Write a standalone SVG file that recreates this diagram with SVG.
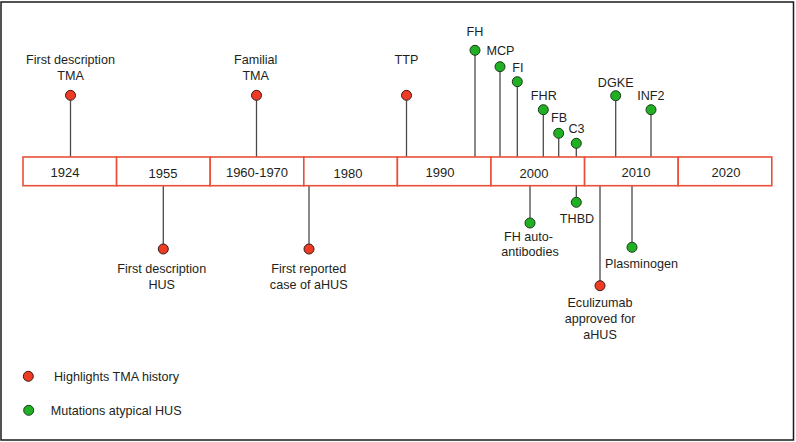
<svg xmlns="http://www.w3.org/2000/svg" width="796" height="442" viewBox="0 0 796 442">
<style>
.t{font-family:"Liberation Sans",Arial,sans-serif;font-size:12.6px;fill:#231f20;text-anchor:middle}
.l{font-family:"Liberation Sans",Arial,sans-serif;font-size:12.6px;fill:#231f20}
.y{font-family:"Liberation Sans",Arial,sans-serif;font-size:13px;fill:#231f20;text-anchor:middle}
.box{fill:#fff;stroke:#e8503a;stroke-width:1.6}
.s{stroke:#4a4a4a;stroke-width:1.3;fill:none}
.r{fill:#ee3b24;stroke:#3a1a14;stroke-width:1}
.g{fill:#21b024;stroke:#1a3a1a;stroke-width:1}
</style>
<rect x="0" y="0" width="796" height="442" fill="#fff"/>
<rect x="1" y="2" width="792.5" height="438" fill="none" stroke="#1a1a1a" stroke-width="1.5"/>
<g id="connectors">
<line class="s" x1="70.5" y1="100" x2="70.5" y2="157"/>
<line class="s" x1="256.5" y1="100" x2="256.5" y2="157"/>
<line class="s" x1="406.5" y1="100" x2="406.5" y2="157"/>
<line class="s" x1="475" y1="55" x2="475" y2="157"/>
<line class="s" x1="500" y1="71.5" x2="500" y2="157"/>
<line class="s" x1="517.3" y1="86.5" x2="517.3" y2="157"/>
<line class="s" x1="543.3" y1="114.5" x2="543.3" y2="157"/>
<line class="s" x1="558.7" y1="138" x2="558.7" y2="157"/>
<line class="s" x1="576.3" y1="148" x2="576.3" y2="157"/>
<line class="s" x1="615.7" y1="100.5" x2="615.7" y2="157"/>
<line class="s" x1="651" y1="114.5" x2="651" y2="157"/>
<line class="s" x1="163.3" y1="186" x2="163.3" y2="244"/>
<line class="s" x1="309" y1="186" x2="309" y2="244"/>
<line class="s" x1="530" y1="186" x2="530" y2="218"/>
<line class="s" x1="576.3" y1="186" x2="576.3" y2="197.5"/>
<line class="s" x1="600" y1="186" x2="600" y2="281"/>
<line class="s" x1="632" y1="186" x2="632" y2="242.5"/>
</g>
<g id="timeline">
<rect class="box" x="23" y="157" width="93.6" height="28.7"/>
<rect class="box" x="116.6" y="157" width="93.6" height="28.7"/>
<rect class="box" x="210.2" y="157" width="93.6" height="28.7"/>
<rect class="box" x="303.8" y="157" width="93.6" height="28.7"/>
<rect class="box" x="397.4" y="157" width="93.6" height="28.7"/>
<rect class="box" x="491" y="157" width="93.6" height="28.7"/>
<rect class="box" x="584.6" y="157" width="93.6" height="28.7"/>
<rect class="box" x="678.2" y="157" width="93.6" height="28.7"/>
<text class="y" x="65" y="176.5">1924</text>
<text class="y" x="163" y="178">1955</text>
<text class="y" x="257" y="177">1960-1970</text>
<text class="y" x="348" y="178">1980</text>
<text class="y" x="440" y="176.5">1990</text>
<text class="y" x="534" y="177.5">2000</text>
<text class="y" x="636" y="176.5">2010</text>
<text class="y" x="726" y="176.5">2020</text>
</g>
<g id="n-first-tma"><circle class="r" cx="70.5" cy="95.3" r="5"/><text class="t" x="70.5" y="64">First description</text><text class="t" x="70.5" y="80">TMA</text></g>
<g id="n-familial"><circle class="r" cx="256.5" cy="95.3" r="5"/><text class="t" x="255.7" y="64">Familial</text><text class="t" x="255.7" y="80">TMA</text></g>
<g id="n-ttp"><circle class="r" cx="406.5" cy="95.3" r="5"/><text class="t" x="406.5" y="64">TTP</text></g>
<g id="n-fh"><circle class="g" cx="475" cy="50.3" r="5"/><text class="t" x="475" y="36">FH</text></g>
<g id="n-mcp"><circle class="g" cx="500" cy="66.7" r="5"/><text class="t" x="500.5" y="55">MCP</text></g>
<g id="n-fi"><circle class="g" cx="517.3" cy="81.7" r="5"/><text class="t" x="517.8" y="71.7">FI</text></g>
<g id="n-fhr"><circle class="g" cx="543.3" cy="109.7" r="5"/><text class="t" x="543.8" y="100">FHR</text></g>
<g id="n-fb"><circle class="g" cx="558.7" cy="133.3" r="5"/><text class="t" x="559" y="121.7">FB</text></g>
<g id="n-c3"><circle class="g" cx="576.3" cy="143.3" r="5"/><text class="t" x="576.5" y="133.3">C3</text></g>
<g id="n-dgke"><circle class="g" cx="615.7" cy="95.7" r="5"/><text class="t" x="615.7" y="86.7">DGKE</text></g>
<g id="n-inf2"><circle class="g" cx="651" cy="109.7" r="5"/><text class="t" x="650.8" y="100">INF2</text></g>
<g id="n-first-hus"><circle class="r" cx="163.3" cy="249" r="5"/><text class="t" x="161.7" y="273.3">First description</text><text class="t" x="161.7" y="289.3">HUS</text></g>
<g id="n-first-ahus"><circle class="r" cx="309" cy="249" r="5"/><text class="t" x="308.7" y="273.3">First reported</text><text class="t" x="308.7" y="289.3">case of aHUS</text></g>
<g id="n-fh-auto"><circle class="g" cx="530" cy="223" r="5"/><text class="t" x="528.5" y="240.7">FH auto-</text><text class="t" x="530" y="256">antibodies</text></g>
<g id="n-thbd"><circle class="g" cx="576.3" cy="202.3" r="5"/><text class="t" x="577" y="223.3">THBD</text></g>
<g id="n-eculizumab"><circle class="r" cx="600" cy="285.7" r="5"/><text class="t" x="600" y="306.7">Eculizumab</text><text class="t" x="600" y="322.7">approved for</text><text class="t" x="600" y="338.7">aHUS</text></g>
<g id="n-plasminogen"><circle class="g" cx="632" cy="247.3" r="5"/><text class="t" x="641.5" y="268.3">Plasminogen</text></g>
<g id="legend">
<circle class="r" cx="28.3" cy="376.3" r="5"/><text class="l" x="54" y="380.7">Highlights TMA history</text>
<circle class="g" cx="28.7" cy="410.3" r="5"/><text class="l" x="50.7" y="415">Mutations atypical HUS</text>
</g>
</svg>
